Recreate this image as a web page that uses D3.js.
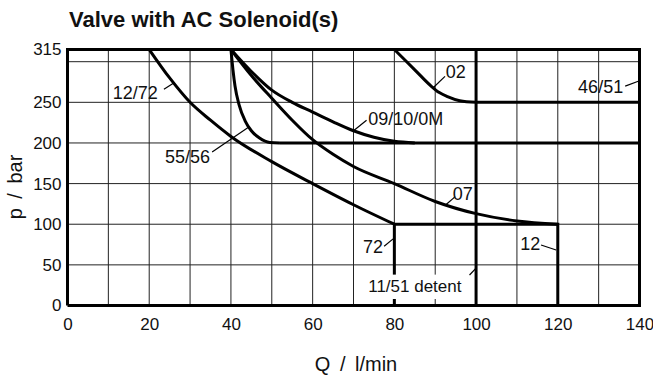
<!DOCTYPE html>
<html>
<head>
<meta charset="utf-8">
<script src="https://cdn.jsdelivr.net/npm/d3@7"></script>
<style>
  body { margin: 0; background: #fff; }
  text { font-family: "Liberation Sans", Arial, sans-serif; fill: #111; }
</style>
</head>
<body>
<script>
"use strict";

// chart values (Q in l/min, p in bar)
var xTicks = [0, 20, 40, 60, 80, 100, 120, 140];
var yTicks = [0, 50, 100, 150, 200, 250, 315];
var xGrid = d3.range(10, 140, 10);
var yGrid = [50, 100, 150, 200, 250, 300];

var curve1272 = [[20, 315], [25, 280], [30, 250], [35, 228], [40, 208], [50, 177], [60, 150], [70, 124], [80, 100]];
var curve5556 = [[40, 315], [40.5, 290], [41, 270], [42, 247], [43.5, 227], [45, 215], [47, 206], [49.5, 200.5], [52, 200]];
var curve0910 = [[40, 315], [45, 288], [50, 265], [55, 250], [60, 238], [65, 226], [70, 215], [75, 207], [80, 202], [85, 200]];
var curve07 = [[40, 315], [45, 283], [50, 255], [55, 228], [60, 204], [65, 186], [70, 171], [80, 150], [90, 128], [100, 113], [110, 104], [120, 100]];
var curve02 = [[80, 315], [85, 290], [89, 270], [91, 262], [93, 257], [96, 252], [100, 250]];

// heavy straight limits
var limitLines = [
  [[100, 0], [100, 315]],
  [[80, 0], [80, 100], [120, 100], [120, 0]],
  [[52, 200], [140, 200]],
  [[100, 250], [140, 250]]
];

// curve labels: text, anchor point, leader from/to (all in data units)
var labels = [
  { t: "12/72", x: 22.1, y: 254, a: "end", l: [[23.6, 266], [26.1, 274]] },
  { t: "55/56", x: 34.9, y: 175, a: "end", l: [[35.4, 189], [44.2, 219]] },
  { t: "09/10/0M", x: 73.6, y: 222, a: "start", l: [[70, 215], [73.2, 228]] },
  { t: "02", x: 92.6, y: 280, a: "start", l: [[89.5, 268], [92.4, 282]] },
  { t: "46/51", x: 136, y: 261.5, a: "end", l: [[136.5, 270], [139.7, 276]] },
  { t: "07", x: 94.3, y: 130, a: "start", l: [[92.6, 124], [94.9, 134]] },
  { t: "72", x: 77.2, y: 64.6, a: "end", l: [[77.5, 73], [79.7, 82]] },
  { t: "12", x: 115.7, y: 68.3, a: "end", l: [[115.9, 74.4], [119.6, 68.3]] }
];
var detentLabel = "11/51 detent";

var width = 653, height = 376;
var x = d3.scaleLinear().domain([0, 140]).range([67.5, 639.5]);
var y = d3.scaleLinear().domain([0, 315]).range([305.5, 49.5]);

var svg = d3.select("body").append("svg")
  .attr("width", width)
  .attr("height", height);

var line = d3.line()
  .x(function (d) { return x(d[0]); })
  .y(function (d) { return y(d[1]); });
var smooth = d3.line()
  .x(function (d) { return x(d[0]); })
  .y(function (d) { return y(d[1]); })
  .curve(d3.curveMonotoneX);

// thin grid
var grid = svg.append("g").attr("stroke", "#222").attr("stroke-width", 1);
grid.selectAll(".vg").data(xGrid).enter().append("line")
  .attr("x1", function (d) { return x(d); }).attr("x2", function (d) { return x(d); })
  .attr("y1", y(0)).attr("y2", y(315));
grid.selectAll(".hg").data(yGrid).enter().append("line")
  .attr("x1", x(0)).attr("x2", x(140))
  .attr("y1", function (d) { return y(d); }).attr("y2", function (d) { return y(d); });

// limit lines
svg.append("g").selectAll("path").data(limitLines).enter().append("path")
  .attr("d", line)
  .attr("fill", "none")
  .attr("stroke", "#000")
  .attr("stroke-width", 3);

// curves
svg.append("g").selectAll("path")
  .data([curve1272, curve5556, curve0910, curve07, curve02])
  .enter().append("path")
  .attr("d", smooth)
  .attr("fill", "none")
  .attr("stroke", "#000")
  .attr("stroke-width", 3)
  .attr("stroke-linejoin", "round");

// frame
svg.append("path")
  .attr("d", line([[0, 0], [0, 315], [140, 315], [140, 0], [0, 0]]))
  .attr("fill", "none")
  .attr("stroke", "#000")
  .attr("stroke-width", 3);

// axes (labels only)
var yAxis = svg.append("g")
  .attr("transform", "translate(" + x(0) + ",0)")
  .call(d3.axisLeft(y).tickValues(yTicks).tickSize(0).tickPadding(6));
var xAxis = svg.append("g")
  .attr("transform", "translate(0," + y(0) + ")")
  .call(d3.axisBottom(x).tickValues(xTicks).tickSize(0).tickPadding(12));
[yAxis, xAxis].forEach(function (g) {
  g.select(".domain").remove();
  g.selectAll("text").style("font-size", "17px").attr("fill", "#111");
});

// curve labels with leaders
var lab = svg.append("g");
lab.selectAll("path").data(labels).enter().append("path")
  .attr("d", function (d) { return line(d.l); })
  .attr("stroke", "#000").attr("stroke-width", 1.2);
lab.selectAll("text").data(labels).enter().append("text")
  .attr("x", function (d) { return x(d.x); })
  .attr("y", function (d) { return y(d.y); })
  .attr("text-anchor", function (d) { return d.a; })
  .style("font-size", "18px")
  .text(function (d) { return d.t; });

// detent label on white box
svg.append("rect")
  .attr("x", x(73)).attr("y", y(38))
  .attr("width", x(97.8) - x(73)).attr("height", y(8) - y(38))
  .attr("fill", "#fff");
svg.append("path")
  .attr("d", line([[98.4, 37.5], [100, 46]]))
  .attr("stroke", "#000").attr("stroke-width", 1.2);
svg.append("text")
  .attr("x", x(73.6)).attr("y", y(16.5))
  .style("font-size", "17px")
  .text(detentLabel);

// titles
svg.append("text")
  .attr("x", 69).attr("y", 27)
  .style("font-size", "22px").style("font-weight", "bold")
  .text("Valve with AC Solenoid(s)");
svg.append("text")
  .attr("transform", "translate(22,187) rotate(-90)")
  .attr("text-anchor", "middle")
  .style("font-size", "20px").style("word-spacing", "4px")
  .text("p / bar");
svg.append("text")
  .attr("x", 356).attr("y", 371)
  .attr("text-anchor", "middle")
  .style("font-size", "20px").style("word-spacing", "4px")
  .text("Q / l/min");
</script>
</body>
</html>
